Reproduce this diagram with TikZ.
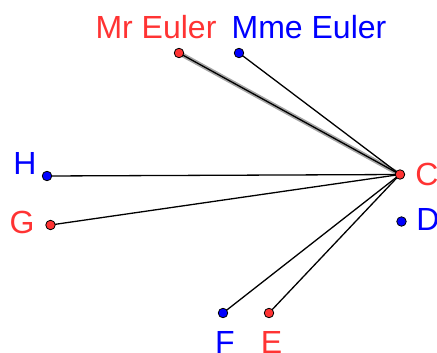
\documentclass[tikz,border=0pt]{standalone}
\usepackage{fontspec}
\setmainfont{Liberation Sans}
\usepackage{xcolor}
\definecolor{ggred}{RGB}{255, 51, 51}
\definecolor{ggblue}{RGB}{0, 0, 255}
\usepackage{tikz}
\usetikzlibrary{positioning}

\begin{document}
\begin{tikzpicture}[
  x=1pt, y=-1pt,
  pt/.style={circle, draw=black, line width=0.8pt, inner sep=0pt, minimum size=9.5pt},
  redpt/.style={pt, fill=ggred},
  bluept/.style={pt, fill=ggblue},
  lbl/.style={anchor=base, inner sep=0pt, font=\fontsize{32}{38}\selectfont},
  seg/.style={line width=1.3pt, color=black},
  halo/.style={line width=4.5pt, color=black!35, line cap=round}
]
\useasboundingbox (0,0) rectangle (437,353);

% points
\coordinate (mr) at (179,53);
\coordinate (mme) at (239,53);
\coordinate (h) at (47,176);
\coordinate (g) at (50.5,225);
\coordinate (c) at (400,174.5);
\coordinate (d) at (401.5,221.5);
\coordinate (f) at (223,313);
\coordinate (e) at (269,313);

% segments to C
\draw[halo] (mr) -- (c);
\draw[seg] (mr) -- (c);
\draw[seg] (mme) -- (c);
\draw[seg] (h) -- (c);
\draw[seg] (g) -- (c);
\draw[seg] (f) -- (c);
\draw[seg] (e) -- (c);

\node[redpt] (mrpt) at (mr) {};
\node[bluept] (mmept) at (mme) {};
\node[bluept] (hpt) at (h) {};
\node[redpt] (gpt) at (g) {};
\node[redpt] (cpt) at (c) {};
\node[bluept] (dpt) at (d) {};
\node[bluept] (fpt) at (f) {};
\node[redpt] (ept) at (e) {};

% labels
\node[lbl, text=ggred] (mrlbl) at (156,39) {Mr Euler};
\node[lbl, text=ggblue] (mmelbl) at (309,39) {Mme Euler};
\node[lbl, text=ggblue] (hlbl) at (25,174) {H};
\node[lbl, text=ggred] (glbl) at (22,233) {G};
\node[lbl, text=ggred] (clbl) at (427,185) {C};
\node[lbl, text=ggblue] (dlbl) at (428,230) {D};
\node[lbl, text=ggblue] (flbl) at (225,353) {F};
\node[lbl, text=ggred] (elbl) at (271.5,353) {E};
\end{tikzpicture}
\end{document}
